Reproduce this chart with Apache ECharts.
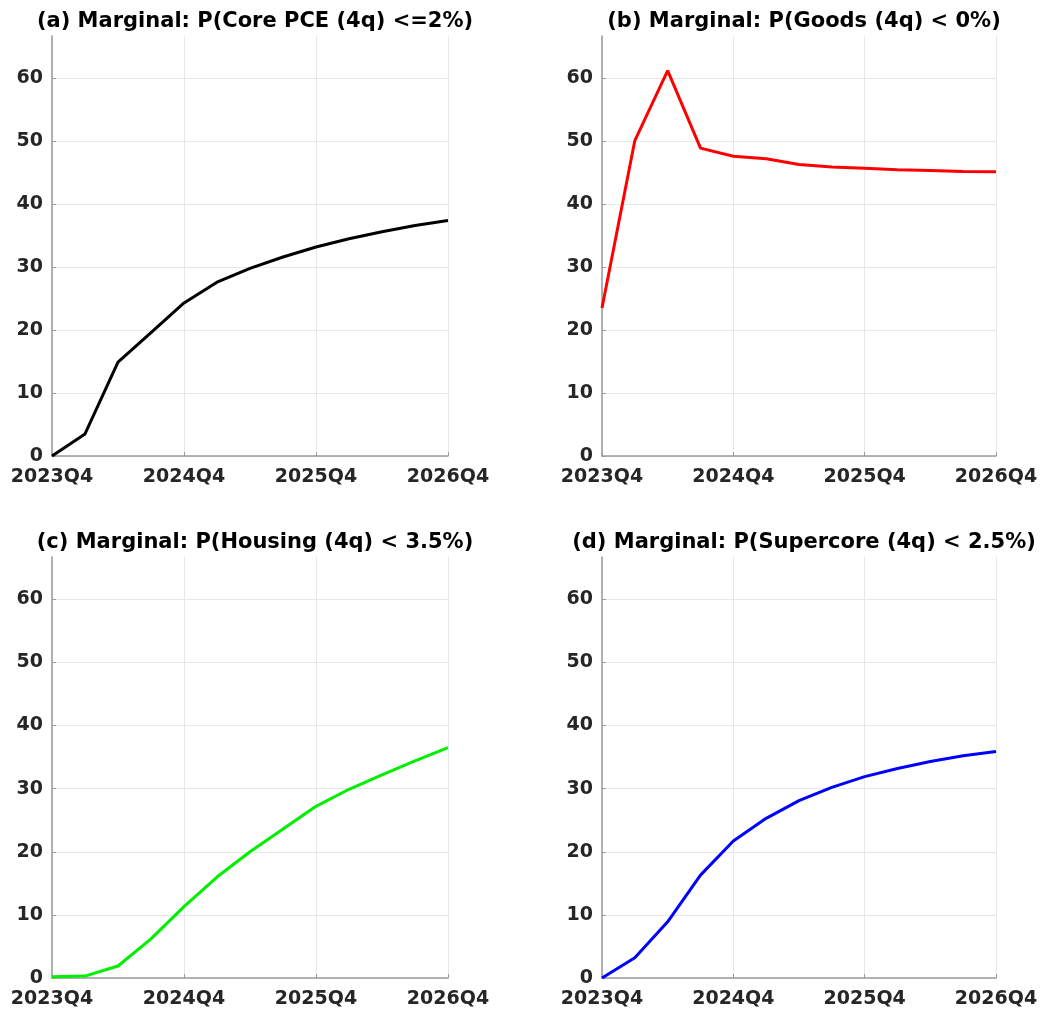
<!DOCTYPE html>
<html>
<head>
<meta charset="utf-8">
<title>Marginal probabilities</title>
<script src="https://cdn.jsdelivr.net/npm/echarts@6/dist/echarts.min.js"></script>
<style>
  html, body { margin: 0; padding: 0; background: #fff; }
  #chart { width: 1047px; height: 1011px; }
</style>
</head>
<body>
<div id="chart"></div>
<script>
// Forecast horizon, quarterly
const quarters = [
  '2023Q4', '2024Q1', '2024Q2', '2024Q3', '2024Q4', '2025Q1', '2025Q2',
  '2025Q3', '2025Q4', '2026Q1', '2026Q2', '2026Q3', '2026Q4'
];

// Probability (%) of each event, by quarter
const corePce   = [0.0, 3.5, 14.9, 19.6, 24.3, 27.6, 29.8, 31.6, 33.2, 34.5, 35.6, 36.6, 37.4];
const goods     = [23.5, 50.1, 61.2, 48.9, 47.6, 47.2, 46.3, 45.9, 45.7, 45.45, 45.35, 45.2, 45.15];
const housing   = [0.2, 0.3, 1.9, 6.2, 11.3, 16.0, 20.0, 23.6, 27.2, 29.9, 32.2, 34.4, 36.5];
const supercore = [0.0, 3.2, 8.9, 16.3, 21.7, 25.3, 28.1, 30.2, 31.9, 33.2, 34.3, 35.2, 35.9];

const yTicks = [0, 10, 20, 30, 40, 50, 60];

const panels = [
  { title: '(a) Marginal: P(Core PCE (4q) <=2%)',   data: corePce,   color: '#000000' },
  { title: '(b) Marginal: P(Goods (4q) < 0%)',      data: goods,     color: '#ff0000' },
  { title: '(c) Marginal: P(Housing (4q) < 3.5%)',  data: housing,   color: '#00ee00' },
  { title: '(d) Marginal: P(Supercore (4q) < 2.5%)', data: supercore, color: '#0000ff' }
];

const boxes = [
  { left: 52,  top: 36,  width: 396, height: 420 },
  { left: 602, top: 36,  width: 394, height: 420 },
  { left: 52,  top: 557, width: 396, height: 421 },
  { left: 602, top: 557, width: 394, height: 421 }
];

const FONT = 'DejaVu Sans';
const AXIS_GRAY = '#9a9a9a';
const GRID_GRAY = '#e8e8e8';

const option = {
  backgroundColor: '#ffffff',
  animation: false,
  title: [],
  grid: [],
  xAxis: [],
  yAxis: [],
  series: []
};

panels.forEach((p, i) => {
  const b = boxes[i];
  option.title.push({
    text: p.title,
    left: b.left + b.width / 2,
    top: b.top - 30,
    textAlign: 'center',
    textStyle: { fontFamily: FONT, fontWeight: 'bold', fontSize: 21, color: '#000' }
  });
  option.grid.push({ left: b.left, top: b.top, width: b.width, height: b.height, containLabel: false });
  option.xAxis.push({
    type: 'category',
    gridIndex: i,
    data: quarters,
    boundaryGap: false,
    axisLine: { show: true, lineStyle: { color: AXIS_GRAY, width: 1.5 } },
    axisTick: { show: true, inside: true, length: 4, interval: 3, lineStyle: { color: AXIS_GRAY } },
    axisLabel: {
      interval: 3, margin: 12,
      fontFamily: FONT, fontWeight: 'bold', fontSize: 19, color: '#262626'
    },
    splitLine: { show: true, interval: 3, lineStyle: { color: GRID_GRAY, width: 1 } }
  });
  option.yAxis.push({
    type: 'value',
    gridIndex: i,
    min: 0,
    max: 66.7,
    interval: 10,
    axisLine: { show: true, lineStyle: { color: AXIS_GRAY, width: 1.5 } },
    axisTick: { show: true, inside: true, length: 4, lineStyle: { color: AXIS_GRAY } },
    axisLabel: {
      margin: 9, showMaxLabel: false,
      fontFamily: FONT, fontWeight: 'bold', fontSize: 19, color: '#262626',
      formatter: v => (yTicks.indexOf(v) >= 0 ? String(v) : '')
    },
    splitLine: { show: true, showMaxLine: false, lineStyle: { color: GRID_GRAY, width: 1 } }
  });
  option.series.push({
    type: 'line',
    xAxisIndex: i,
    yAxisIndex: i,
    data: p.data,
    symbol: 'none',
    lineStyle: { color: p.color, width: 3 },
    z: 5
  });
});

const chart = echarts.init(document.getElementById('chart'), null, { renderer: 'canvas' });
chart.setOption(option);
</script>
</body>
</html>
